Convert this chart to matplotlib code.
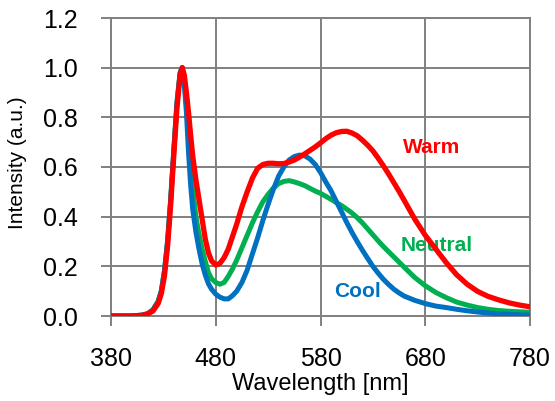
import matplotlib
matplotlib.use("Agg")
import matplotlib.pyplot as plt

plt.rcParams['font.family'] = ['Liberation Sans', 'DejaVu Sans']

wavelength = [380, 400, 410, 415, 420, 425, 428, 431, 434, 437, 440, 443, 446, 448,
              450, 452, 454, 456, 458, 461, 464, 467, 470, 473, 476, 480, 484, 488, 492,
              496, 500, 505, 510, 515, 520, 525, 530, 535, 540, 545, 550, 555, 560, 565,
              570, 575, 580, 585, 590, 595, 600, 605, 610, 615, 620, 625, 630, 635, 640,
              645, 650, 655, 660, 670, 680, 690, 700, 710, 720, 730, 740, 750, 760, 770, 780]

warm = [0.0, 0.0, 0.003, 0.008, 0.02, 0.05, 0.09, 0.16, 0.28, 0.45, 0.65, 0.84, 0.97, 1.0,
        0.97, 0.9, 0.82, 0.73, 0.645, 0.55, 0.47, 0.39, 0.31, 0.255, 0.222, 0.205, 0.212, 0.235, 0.27,
        0.32, 0.37, 0.44, 0.5, 0.555, 0.595, 0.61, 0.615, 0.615, 0.613, 0.614, 0.62, 0.628, 0.64, 0.653,
        0.667, 0.681, 0.697, 0.714, 0.728, 0.738, 0.743, 0.744, 0.737, 0.726, 0.708, 0.688, 0.665, 0.636, 0.605,
        0.572, 0.537, 0.502, 0.465, 0.39, 0.325, 0.27, 0.215, 0.166, 0.128, 0.099, 0.079, 0.065, 0.053, 0.044, 0.037]

neutral = [0.0, 0.0, 0.004, 0.01, 0.025, 0.06, 0.1, 0.18, 0.3, 0.47, 0.67, 0.86, 0.98, 1.0,
           0.95, 0.85, 0.73, 0.6, 0.52, 0.4, 0.33, 0.27, 0.22, 0.175, 0.15, 0.135, 0.128, 0.135, 0.16,
           0.19, 0.225, 0.275, 0.325, 0.375, 0.42, 0.46, 0.49, 0.515, 0.533, 0.542, 0.545, 0.54, 0.533, 0.525,
           0.514, 0.503, 0.494, 0.482, 0.47, 0.457, 0.445, 0.43, 0.415, 0.396, 0.375, 0.351, 0.327, 0.303, 0.28,
           0.259, 0.238, 0.217, 0.196, 0.155, 0.122, 0.095, 0.074, 0.056, 0.044, 0.034, 0.027, 0.022, 0.019, 0.017, 0.015]

cool = [0.0, 0.0, 0.003, 0.009, 0.023, 0.057, 0.1, 0.18, 0.3, 0.47, 0.67, 0.86, 0.98, 1.0,
        0.93, 0.82, 0.66, 0.53, 0.43, 0.34, 0.27, 0.21, 0.165, 0.13, 0.108, 0.088, 0.076, 0.069, 0.069,
        0.082, 0.1, 0.135, 0.185, 0.25, 0.315, 0.385, 0.45, 0.51, 0.563, 0.6, 0.628, 0.642, 0.648, 0.645,
        0.632, 0.61, 0.578, 0.54, 0.505, 0.462, 0.42, 0.377, 0.337, 0.3, 0.265, 0.232, 0.2, 0.173, 0.148,
        0.127, 0.108, 0.093, 0.08, 0.063, 0.05, 0.04, 0.034, 0.027, 0.021, 0.016, 0.012, 0.009, 0.007, 0.005, 0.004]

x_ticks = [380, 480, 580, 680, 780]
y_ticks = [0.0, 0.2, 0.4, 0.6, 0.8, 1.0, 1.2]

RED = '#FF0000'
GREEN = '#00B050'
BLUE = '#0070C0'
GRAY = '#808080'

fig = plt.figure(figsize=(5.55, 4.01), dpi=100)
ax = fig.add_axes([111 / 555, 1 - 316 / 401, (530 - 111) / 555, (316 - 18) / 401])

ax.plot(wavelength, neutral, color=GREEN, lw=3.6, solid_joinstyle='round', zorder=3)
ax.plot(wavelength, cool, color=BLUE, lw=3.6, solid_joinstyle='round', zorder=3)
ax.plot(wavelength, warm, color=RED, lw=3.8, solid_joinstyle='round', zorder=4)

ax.set_xlim(380, 780)
ax.set_ylim(0, 1.2)
ax.set_xticks(x_ticks)
ax.set_xticklabels([str(v) for v in x_ticks])
ax.set_yticks(y_ticks)
ax.set_yticklabels([f"{v:.1f}" for v in y_ticks])

ax.grid(True, color=GRAY, lw=1.4)
ax.set_axisbelow(True)
for s in ax.spines.values():
    s.set_color(GRAY)
    s.set_linewidth(1.4)
ax.tick_params(axis='both', direction='out', length=7, width=1.4, color=GRAY,
               labelsize=18, labelcolor='black')
ax.tick_params(axis='x', pad=15)
ax.tick_params(axis='y', pad=17)

ax.set_xlabel('Wavelength [nm]', fontsize=17, labelpad=2)
ax.set_ylabel('Intensity (a.u.)', fontsize=15, va='center')
ax.yaxis.set_label_coords(-0.224, 0.513)

ax.text(658.8, 0.68, 'Warm', color=RED, fontsize=15, fontweight='bold', va='center', ha='left')
ax.text(656.5, 0.282, 'Neutral', color=GREEN, fontsize=15, fontweight='bold', va='center', ha='left')
ax.text(592.9, 0.10, 'Cool', color=BLUE, fontsize=15, fontweight='bold', va='center', ha='left')

fig.savefig('out.png', dpi=100)
